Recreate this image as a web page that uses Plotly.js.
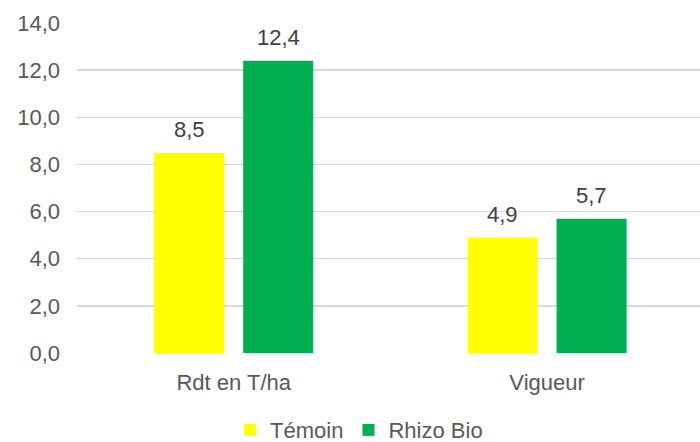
<!DOCTYPE html>
<html>
<head>
<meta charset="utf-8">
<script src="https://cdn.plot.ly/plotly-3.0.1.min.js"></script>
<style>html,body{margin:0;padding:0;background:#fff;}#chart{width:700px;height:442px;}</style>
</head>
<body>
<div id="chart"></div>
<script>
const categories = ["Rdt en T/ha", "Vigueur"];
const seriesNames = ["Témoin", "Rhizo Bio"];
const temoin = [8.5, 4.9];
const rhizoBio = [12.4, 5.7];
const yTicks = [0, 2, 4, 6, 8, 10, 12, 14];

const colors = ["#FFFF00", "#00B050"];
const font = "Liberation Sans, Arial, sans-serif";
const seriesValues = [temoin, rhizoBio];
const offsets = [-44.5, 44.5];

const traces = seriesValues.map((vals, i) => ({
  type: "bar",
  name: seriesNames[i],
  x: categories,
  y: vals,
  marker: {color: colors[i]},
  hoverinfo: "none"
}));

const annotations = [];
seriesValues.forEach((vals, i) => {
  vals.forEach((v, j) => {
    annotations.push({
      x: categories[j], y: v, xref: "x", yref: "y",
      text: v.toFixed(1).replace(".", ","),
      showarrow: false, xshift: offsets[i], yanchor: "bottom", yshift: 9,
      font: {family: font, size: 22, color: "#404040"}
    });
  });
});

const layout = {
  width: 700, height: 442,
  margin: {l: 77, r: 0, t: 22.5, b: 89},
  paper_bgcolor: "#fff", plot_bgcolor: "#fff",
  separators: ", ",
  barmode: "group",
  bargap: 0.432,
  bargroupgap: 0.213,
  showlegend: true,
  legend: {
    orientation: "h", xref: "container", yref: "container",
    x: 0.513, xanchor: "center", y: 0.027, yanchor: "middle",
    font: {family: font, size: 22, color: "#595959"},
    itemclick: false, traceorder: "normal", tracegroupgap: 0
  },
  xaxis: {
    type: "category", range: [-0.5, 1.488],
    showgrid: false, zeroline: false, showline: false,
    ticks: "", ticklabelstandoff: 14,
    tickfont: {family: font, size: 22, color: "#595959"}
  },
  yaxis: {
    range: [0, 14], tickvals: yTicks, tickformat: ".1f",
    showgrid: true, gridcolor: "#D9D9D9", gridwidth: 1.3,
    zeroline: false, showline: false, ticks: "", ticklabelstandoff: 16,
    tickfont: {family: font, size: 22, color: "#595959"}
  },
  annotations: annotations
};

Plotly.newPlot("chart", traces, layout, {staticPlot: true});
</script>
</body>
</html>
